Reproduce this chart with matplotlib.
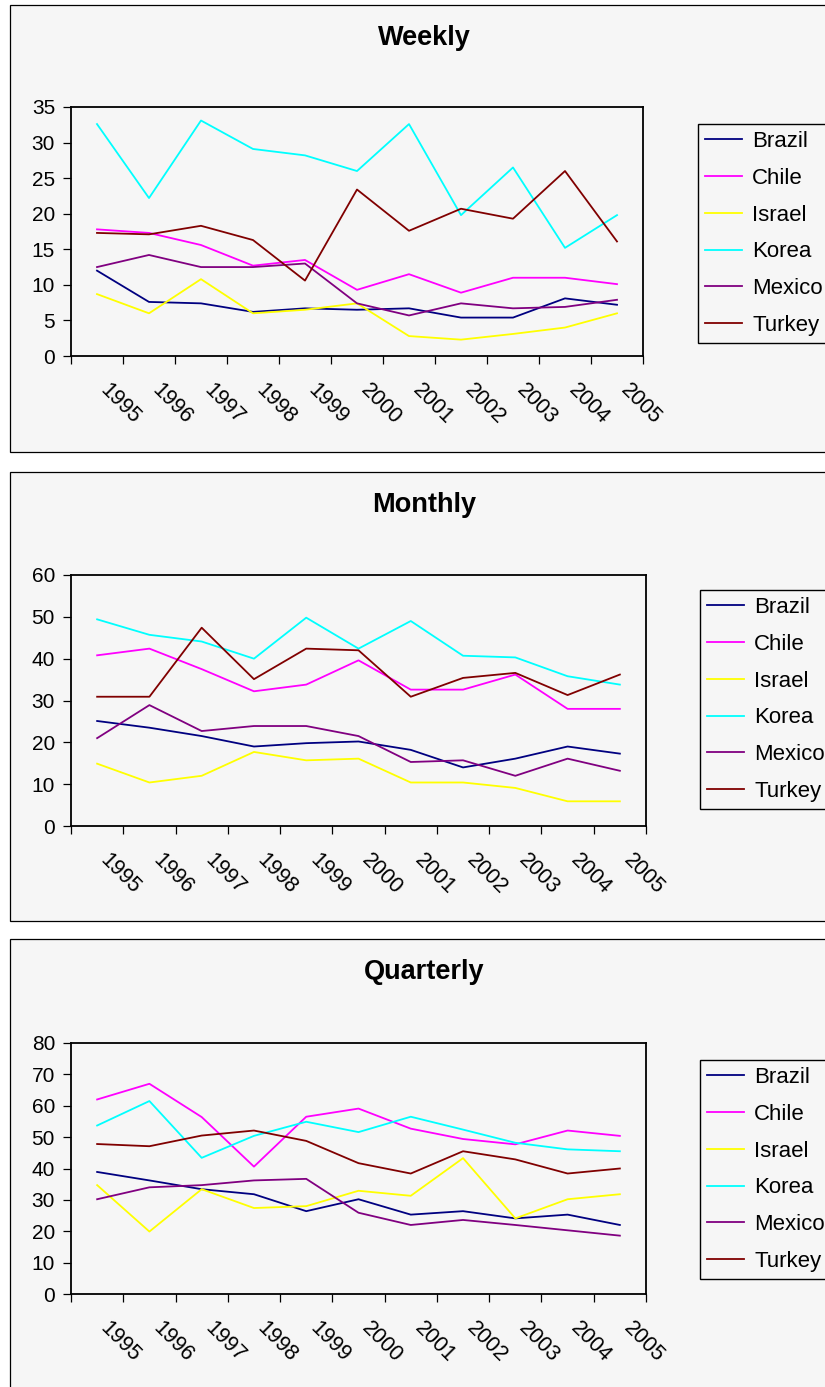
import matplotlib
matplotlib.use("Agg")
import matplotlib.pyplot as plt
import matplotlib.transforms as mtransforms
from matplotlib.patches import Rectangle

plt.rcParams['font.family'] = ['Liberation Sans', 'DejaVu Sans']

years = ["1995", "1996", "1997", "1998", "1999", "2000", "2001", "2002", "2003", "2004", "2005"]
countries = ["Brazil", "Chile", "Israel", "Korea", "Mexico", "Turkey"]
colors = ["#000080", "#FF00FF", "#FFFF00", "#00FFFF", "#800080", "#800000"]

# Weekly
weekly_brazil = [12.0, 7.6, 7.4, 6.2, 6.7, 6.5, 6.7, 5.4, 5.4, 8.1, 7.2]
weekly_chile = [17.8, 17.3, 15.6, 12.7, 13.5, 9.3, 11.5, 8.9, 11.0, 11.0, 10.1]
weekly_israel = [8.7, 6.0, 10.8, 6.0, 6.5, 7.4, 2.8, 2.3, 3.1, 4.0, 6.0]
weekly_korea = [32.6, 22.2, 33.1, 29.1, 28.2, 26.0, 32.6, 19.8, 26.5, 15.2, 19.8]
weekly_mexico = [12.5, 14.2, 12.5, 12.5, 13.0, 7.4, 5.7, 7.4, 6.7, 6.9, 7.9]
weekly_turkey = [17.3, 17.1, 18.3, 16.3, 10.6, 23.4, 17.6, 20.7, 19.3, 26.0, 16.1]

# Monthly
monthly_brazil = [25.1, 23.5, 21.5, 19.0, 19.8, 20.2, 18.2, 14.0, 16.1, 19.0, 17.3]
monthly_chile = [40.8, 42.4, 37.5, 32.2, 33.8, 39.6, 32.6, 32.6, 36.2, 28.0, 28.0]
monthly_israel = [14.9, 10.4, 12.0, 17.7, 15.7, 16.1, 10.4, 10.4, 9.1, 5.9, 5.9]
monthly_korea = [49.4, 45.7, 44.1, 40.0, 49.8, 42.4, 49.0, 40.7, 40.3, 35.8, 33.8]
monthly_mexico = [21.0, 28.9, 22.7, 23.9, 23.9, 21.5, 15.3, 15.7, 12.0, 16.1, 13.2]
monthly_turkey = [30.9, 30.9, 47.4, 35.1, 42.4, 42.0, 30.9, 35.4, 36.6, 31.3, 36.2]

# Quarterly
quarterly_brazil = [38.9, 36.2, 33.4, 31.8, 26.4, 30.2, 25.3, 26.4, 24.1, 25.3, 22.0]
quarterly_chile = [62.0, 67.0, 56.4, 40.6, 56.5, 59.1, 52.7, 49.4, 47.7, 52.1, 50.4]
quarterly_israel = [34.7, 19.9, 33.4, 27.4, 28.0, 32.9, 31.3, 43.3, 24.1, 30.2, 31.8]
quarterly_korea = [53.7, 61.5, 43.4, 50.4, 54.9, 51.6, 56.5, 52.4, 48.2, 46.1, 45.5]
quarterly_mexico = [30.2, 34.0, 34.7, 36.2, 36.7, 25.9, 22.0, 23.6, 22.0, 20.3, 18.6]
quarterly_turkey = [47.8, 47.1, 50.5, 52.1, 48.8, 41.7, 38.4, 45.5, 42.9, 38.4, 40.0]

titles = ["Weekly", "Monthly", "Quarterly"]
weekly = [weekly_brazil, weekly_chile, weekly_israel, weekly_korea, weekly_mexico, weekly_turkey]
monthly = [monthly_brazil, monthly_chile, monthly_israel, monthly_korea, monthly_mexico, monthly_turkey]
quarterly = [quarterly_brazil, quarterly_chile, quarterly_israel, quarterly_korea, quarterly_mexico, quarterly_turkey]
ymax_list = [35, 60, 80]
ystep_list = [5, 10, 10]

W, H = 825, 1387
fig = plt.figure(figsize=(W / 100, H / 100), dpi=100)
fig.patch.set_facecolor("white")
BG = "#f6f6f6"

def frac_rect(x0, y0, x1, y1):
    return [x0 / W, 1 - y1 / H, (x1 - x0) / W, (y1 - y0) / H]

panels = [(5, 452), (472, 921), (939, 1400)]
axes_px = [(71, 107, 643, 356), (71, 575, 646, 826), (71, 1043, 646, 1294)]
legend_px = [(698, 124), (700, 590), (700, 1060)]

for k, (title, data) in enumerate(zip(titles, [weekly, monthly, quarterly])):
    ptop, pbot = panels[k]
    fig.patches.append(Rectangle((10 / W, 1 - pbot / H), (840 - 10) / W, (pbot - ptop) / H,
                                 transform=fig.transFigure, facecolor=BG, edgecolor="black",
                                 linewidth=0.9, zorder=-5))
    fig.text(424 / W, 1 - (ptop + 40) / H, title, ha="center", va="baseline",
             fontsize=19.5, fontweight="bold")

    ax = fig.add_axes(frac_rect(*axes_px[k]))
    ax.set_zorder(1)
    ax.set_facecolor(BG)
    x = list(range(len(years)))
    for name, col, vals in zip(countries, colors, data):
        ax.plot(x, vals, color=col, linewidth=1.3, label=name)
    ax.set_xlim(-0.5, len(years) - 0.5)
    ax.set_ylim(0, ymax_list[k])
    ax.set_yticks(range(0, ymax_list[k] + 1, ystep_list[k]))
    ax.set_xticks([i - 0.5 for i in range(len(years) + 1)])
    ax.set_xticklabels([])
    ax.tick_params(axis="both", direction="out", length=5.5, width=0.9, colors="black",
                   labelsize=15)
    ax.tick_params(axis="y", pad=6)
    for sp in ax.spines.values():
        sp.set_color("black")
        sp.set_linewidth(1.3)

    trans = mtransforms.blended_transform_factory(ax.transData, ax.transAxes) + \
        mtransforms.ScaledTranslation(14 / 100, -24 / 100, fig.dpi_scale_trans)
    for i, lab in enumerate(years):
        ax.text(i, 0, lab, transform=trans, rotation=-45, rotation_mode="anchor",
                ha="left", va="top", fontsize=15.5, clip_on=False)

    lx, ly = legend_px[k]
    leg = ax.legend(loc="upper left", bbox_to_anchor=(lx / W, 1 - ly / H),
                    bbox_transform=fig.transFigure, frameon=True, fancybox=False,
                    edgecolor="black", facecolor=BG, framealpha=1, fontsize=16,
                    borderpad=0.32, handlelength=1.67, handletextpad=0.45,
                    labelspacing=0.71, borderaxespad=0)
    leg.get_frame().set_linewidth(1.0)

fig.savefig("out.png", dpi=100, facecolor=fig.get_facecolor())
